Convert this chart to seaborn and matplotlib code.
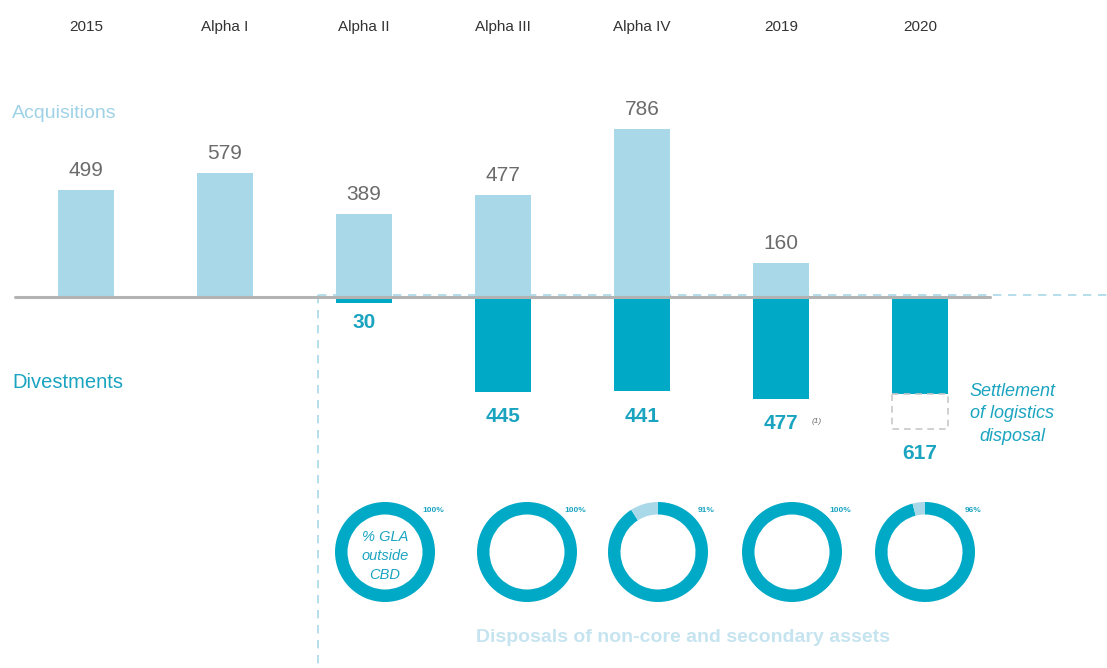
import matplotlib
matplotlib.use("Agg")
import matplotlib.pyplot as plt
import matplotlib.transforms as mtransforms
import seaborn as sns
import numpy as np
import pandas as pd

# ---------------- data ----------------
categories = ["2015", "Alpha I", "Alpha II", "Alpha III", "Alpha IV", "2019", "2020"]
acquisitions = [499, 579, 389, 477, 786, 160, 0]
divestments = [0, 0, 30, 445, 441, 477, 455]          # solid part of bar
divestment_labels = ["", "", "30", "445", "441", "477", "617"]
logistics_total_2020 = 617                            # dashed box total for 2020
donut_cats = ["Alpha II", "Alpha III", "Alpha IV", "2019", "2020"]
donut_pct = [100, 100, 91, 100, 96]

# ---------------- style ----------------
sns.set_theme(style="white")
plt.rcParams["font.family"] = ["Liberation Sans", "DejaVu Sans"]

LIGHT = "#a9d8e8"
TEAL = "#00a9c5"
TEAL_TXT = "#1ba4c0"
GREY_TXT = "#6b6b6b"
LIGHT_TXT = "#9fd2e6"

W, H = 1107, 668
fig = plt.figure(figsize=(W / 100, H / 100), dpi=100)
ax = fig.add_axes([0, 0, 1, 1])

df = pd.DataFrame({"cat": categories, "acq": acquisitions,
                   "div": [-d for d in divestments]})

sns.barplot(data=df, x="cat", y="acq", order=categories, color=LIGHT,
            width=0.4, linewidth=0, saturation=1, ax=ax)
sns.barplot(data=df, x="cat", y="div", order=categories, color=TEAL,
            width=0.4, linewidth=0, saturation=1, ax=ax)

# dashed box for 2020 logistics settlement
i2020 = categories.index("2020")
ax.bar(i2020, -(logistics_total_2020 - divestments[i2020]),
       bottom=-divestments[i2020], width=0.4, fill=False,
       edgecolor="#c8c8c8", linestyle=(0, (4, 3)), linewidth=1.2)

ax.set_xlim(-0.619, 7.345)
ax.set_ylim(-1734, 1388)
ax.axis("off")

# baseline and dashed guides
ax.plot([-0.51, 6.5], [0, 0], color="#b3b3b3", lw=2.2, zorder=3)
ax.plot([1.67, 7.4], [8, 8], color=LIGHT, lw=1.2, ls=(0, (5, 4)), zorder=2)
ax.plot([1.67, 1.67], [8, -1734], color=LIGHT, lw=1.2, ls=(0, (5, 4)), zorder=2)

# value labels
for i, v in enumerate(acquisitions):
    if v > 0:
        ax.annotate(str(v), (i, v), xytext=(0, 7), textcoords="offset points",
                    ha="center", va="bottom", fontsize=15, color=GREY_TXT)
for i, (v, lab) in enumerate(zip(divestments, divestment_labels)):
    if lab:
        bottom = logistics_total_2020 if categories[i] == "2020" else v
        off = -7 if v < 100 else -11
        ax.annotate(lab, (i, -bottom), xytext=(0, off), textcoords="offset points",
                    ha="center", va="top", fontsize=15, color=TEAL_TXT,
                    fontweight="bold")
i2019 = categories.index("2019")
ax.annotate("(1)", (i2019, -divestments[i2019]), xytext=(26, -14),
            textcoords="offset points", ha="center", va="top", fontsize=6,
            style="italic", color=GREY_TXT)

# category labels at top
btf = mtransforms.blended_transform_factory(ax.transData, ax.transAxes)
for i, c in enumerate(categories):
    ax.text(i, 1 - 27 / H, c, transform=btf, ha="center", va="center",
            fontsize=11, color="#333333",
            family=["Liberation Sans Narrow", "Liberation Sans", "DejaVu Sans"])

ax.text(12 / W, 1 - 113 / H, "Acquisitions", transform=ax.transAxes,
        ha="left", va="center", fontsize=14, color=LIGHT_TXT)
ax.text(12 / W, 1 - 382 / H, "Divestments", transform=ax.transAxes,
        ha="left", va="center", fontsize=14.5, color=TEAL_TXT)
ax.text(1012 / W, 1 - 414 / H, "Settlement\nof logistics\ndisposal",
        transform=ax.transAxes, ha="center", va="center", fontsize=13,
        style="italic", color=TEAL_TXT, linespacing=1.45)
ax.text(683 / W, 1 - 637 / H, "Disposals of non-core and secondary assets",
        transform=ax.transAxes, ha="center", va="center", fontsize=14,
        fontweight="bold", color="#c6e4f0")

# donuts
donut_x = [385, 527, 658, 792, 925]
cy, r = 552, 51
for k, (c, p, cx) in enumerate(zip(donut_cats, donut_pct, donut_x)):
    dax = fig.add_axes([(cx - r) / W, 1 - (cy + r) / H, 2 * r / W, 2 * r / H])
    vals = [p, 100 - p] if p < 100 else [p]
    cols = [TEAL, LIGHT] if p < 100 else [TEAL]
    dax.pie(vals, colors=cols, startangle=90, counterclock=False, radius=1,
            wedgeprops=dict(width=0.25, linewidth=0))
    dax.set_xlim(-1.02, 1.02)
    dax.set_ylim(-1.02, 1.02)
    dax.set_aspect("equal")
    dax.axis("off")
    ax.text((cx + 48) / W, 1 - 510 / H, f"{p}%", transform=ax.transAxes,
            ha="center", va="center", fontsize=6, fontweight="bold",
            color=TEAL_TXT)
    if k == 0:
        ax.text(cx / W, 1 - (cy + 4) / H, "% GLA\noutside\nCBD",
                transform=ax.transAxes, ha="center", va="center",
                fontsize=10.5, style="italic", color=TEAL_TXT, linespacing=1.45)

fig.savefig("out.png", dpi=100)
